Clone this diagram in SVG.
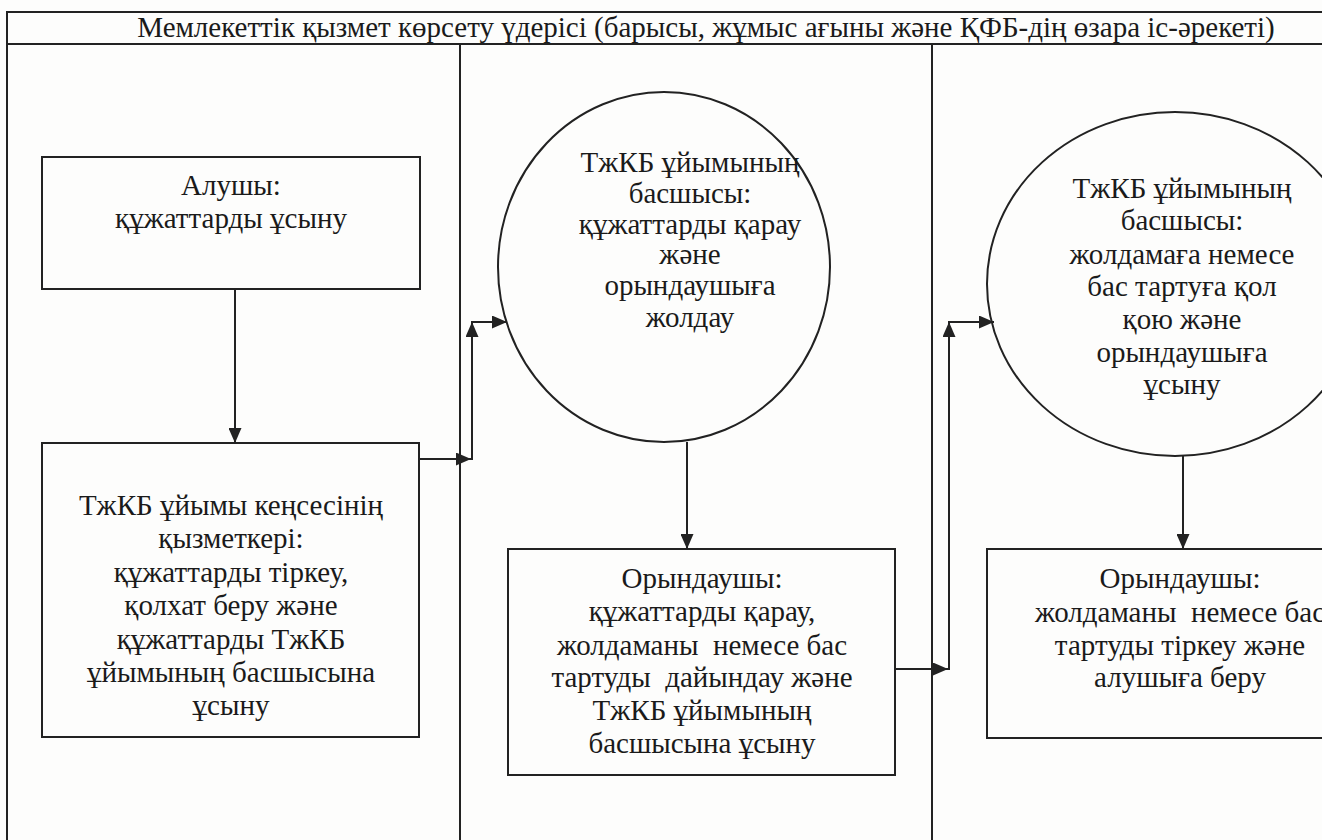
<svg xmlns="http://www.w3.org/2000/svg" width="1322" height="840" viewBox="0 0 1322 840">
<style>
.frame{stroke:#222;stroke-width:2;fill:none}
.node{stroke:#222;stroke-width:2;fill:none}
.conn{stroke:#222;stroke-width:2;fill:none}
text{font-family:"Liberation Serif","Times New Roman",serif;fill:#1a1a1a;text-anchor:middle;white-space:pre}
.t{font-size:29px}
.title{font-size:29px}
</style>
<defs>
<marker id="arr" viewBox="0 0 15 13" refX="15" refY="6.5" markerWidth="15" markerHeight="13" markerUnits="userSpaceOnUse" orient="auto">
<path d="M0,0 L15,6.5 L0,13 Z" fill="#222"/>
</marker>
</defs>
<rect width="1322" height="840" fill="#fdfdfc"/>
<g id="frame">
<path class="frame" d="M7,840 V12 H1322"/>
<path class="frame" d="M7,44 H1322"/>
<path class="frame" d="M460,44 V840"/>
<path class="frame" d="M932,44 V840"/>
<text class="title" x="706" y="37">Мемлекеттік қызмет көрсету үдерісі (барысы, жұмыс ағыны және ҚФБ-дің өзара іс-әрекеті)</text>
</g>
<g id="n1">
<rect class="node" x="42" y="157" width="378" height="132"/>
<text class="t" x="231" y="195">Алушы:</text>
<text class="t" x="231" y="228">құжаттарды ұсыну</text>
</g>
<g id="n2">
<rect class="node" x="42" y="443" width="377" height="294"/>
<text class="t" x="231" y="515">ТжКБ ұйымы кеңсесінің</text>
<text class="t" x="231" y="548">қызметкері:</text>
<text class="t" x="231" y="582">құжаттарды тіркеу,</text>
<text class="t" x="231" y="615">қолхат беру және</text>
<text class="t" x="231" y="649">құжаттарды ТжКБ</text>
<text class="t" x="231" y="682">ұйымының басшысына</text>
<text class="t" x="231" y="715">ұсыну</text>
</g>
<g id="n3">
<ellipse class="node" cx="664" cy="267" rx="166" ry="175"/>
<text class="t" x="690" y="172">ТжКБ ұйымының</text>
<text class="t" x="690" y="203">басшысы:</text>
<text class="t" x="690" y="234">құжаттарды қарау</text>
<text class="t" x="690" y="264">және</text>
<text class="t" x="690" y="295">орындаушыға</text>
<text class="t" x="690" y="327">жолдау</text>
</g>
<g id="n4">
<rect class="node" x="508" y="549" width="387" height="226"/>
<text class="t" x="702" y="588">Орындаушы:</text>
<text class="t" x="702" y="621">құжаттарды қарау,</text>
<text class="t" x="702" y="655">жолдаманы  немесе бас</text>
<text class="t" x="702" y="687">тартуды  дайындау және</text>
<text class="t" x="702" y="720">ТжКБ ұйымының</text>
<text class="t" x="702" y="753">басшысына ұсыну</text>
</g>
<g id="n5">
<ellipse class="node" cx="1175" cy="284" rx="188" ry="172"/>
<text class="t" x="1182" y="198">ТжКБ ұйымының</text>
<text class="t" x="1182" y="230">басшысы:</text>
<text class="t" x="1182" y="264">жолдамаға немесе</text>
<text class="t" x="1182" y="296">бас тартуға қол</text>
<text class="t" x="1182" y="329">қою және</text>
<text class="t" x="1182" y="362">орындаушыға</text>
<text class="t" x="1182" y="394">ұсыну</text>
</g>
<g id="n6">
<rect class="node" x="987" y="549" width="360" height="189"/>
<text class="t" x="1180" y="588">Орындаушы:</text>
<text class="t" x="1180" y="622">жолдаманы  немесе бас</text>
<text class="t" x="1180" y="655">тартуды тіркеу және</text>
<text class="t" x="1180" y="687">алушыға беру</text>
</g>
<g id="connectors">
<line class="conn" x1="235" y1="289" x2="235" y2="443" marker-end="url(#arr)"/>
<line class="conn" x1="419" y1="459" x2="471" y2="459" marker-end="url(#arr)"/>
<line class="conn" x1="472" y1="460" x2="472" y2="322" marker-end="url(#arr)"/>
<line class="conn" x1="471" y1="322" x2="507" y2="322" marker-end="url(#arr)"/>
<line class="conn" x1="687" y1="442" x2="687" y2="549" marker-end="url(#arr)"/>
<line class="conn" x1="895" y1="669" x2="948" y2="669" marker-end="url(#arr)"/>
<line class="conn" x1="949" y1="670" x2="949" y2="322" marker-end="url(#arr)"/>
<line class="conn" x1="948" y1="322" x2="994" y2="322" marker-end="url(#arr)"/>
<line class="conn" x1="1183" y1="456" x2="1183" y2="549" marker-end="url(#arr)"/>
</g>
</svg>
